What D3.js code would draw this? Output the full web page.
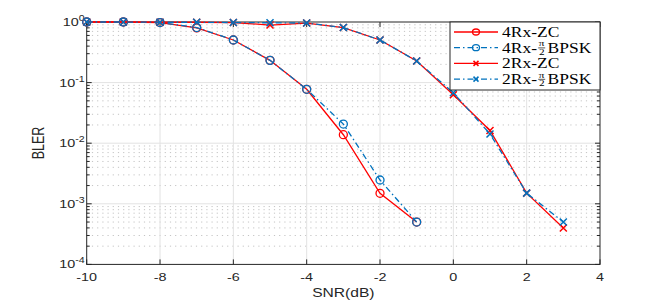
<!DOCTYPE html>
<html><head><meta charset="utf-8">
<script src="https://cdn.jsdelivr.net/npm/d3@7"></script>
<style>body{margin:0;background:#fff}svg{display:block}</style>
</head><body>
<svg id="c" width="664" height="300"></svg>
<script>
const snr4 = [-10,-9,-8,-7,-6,-5,-4,-3,-2,-1];
const zc4 = [1,1,0.98,0.80,0.505,0.233,0.0775,0.0138,0.00149,0.0005];
const bpsk4 = [1,1,0.98,0.81,0.505,0.233,0.0775,0.0207,0.00247,0.0005];
const snr2 = [-10,-9,-8,-7,-6,-5,-4,-3,-2,-1,0,1,2,3];
const zc2 = [1,1,0.99,0.99,0.98,0.89,0.96,0.81,0.505,0.227,0.063,0.0162,0.0015,0.0004];
const bpsk2 = [1,1,0.99,0.99,0.98,0.97,0.96,0.81,0.505,0.227,0.068,0.0142,0.0015,0.0005];
const xTicks = [-10,-8,-6,-4,-2,0,2,4];
const yTicks = [1e-4,1e-3,1e-2,1e-1,1];
const yExps = ["-4","-3","-2","-1","0"];
const legendPrefix = ["4Rx-ZC","4Rx-","2Rx-ZC","2Rx-"];
const legendFrac = [false,true,false,true];
const legendSuffix = ["","BPSK","","BPSK"];
const xLabel = "SNR(dB)", yLabel = "BLER";

const RED = "#ff0000", BLUE = "#0072BD", AX = "#262626";
const svg = d3.select("#c");
const L = 86.7, R = 600, T = 22, B = 264.4;
const x = d3.scaleLinear().domain([-10,4]).range([L,R]);
const y = d3.scaleLog().domain([1e-4,1]).range([B,T]);
const sx = 1.25;

// grid
const g = svg.append("g");
const minors = [];
for (let e=-4;e<0;e++) for (let m=2;m<=9;m++) minors.push(m*Math.pow(10,e));
g.selectAll(".mg").data(minors).join("line")
  .attr("x1",L).attr("x2",R).attr("y1",d=>y(d)).attr("y2",d=>y(d))
  .attr("stroke","#c4c4c4").attr("stroke-width",1).attr("stroke-dasharray","1.2,4");
g.selectAll(".gy").data(yTicks.slice(1,-1)).join("line")
  .attr("x1",L).attr("x2",R).attr("y1",d=>y(d)).attr("y2",d=>y(d))
  .attr("stroke","#e3e3e3").attr("stroke-width",1);
g.selectAll(".gx").data(xTicks.slice(1,-1)).join("line")
  .attr("y1",T).attr("y2",B).attr("x1",d=>x(d)).attr("x2",d=>x(d))
  .attr("stroke","#e3e3e3").attr("stroke-width",1);

// axes box and ticks
const ax = svg.append("g").attr("stroke",AX).attr("stroke-width",1).attr("fill","none");
ax.append("rect").attr("x",L).attr("y",T).attr("width",R-L).attr("height",B-T);
xTicks.forEach(t=>{
  ax.append("line").attr("x1",x(t)).attr("x2",x(t)).attr("y1",B).attr("y2",B-5);
  ax.append("line").attr("x1",x(t)).attr("x2",x(t)).attr("y1",T).attr("y2",T+5);
});
yTicks.forEach(t=>{
  ax.append("line").attr("x1",L).attr("x2",L+5).attr("y1",y(t)).attr("y2",y(t));
  ax.append("line").attr("x1",R).attr("x2",R-5).attr("y1",y(t)).attr("y2",y(t));
});
minors.forEach(t=>{
  ax.append("line").attr("x1",L).attr("x2",L+3).attr("y1",y(t)).attr("y2",y(t));
  ax.append("line").attr("x1",R).attr("x2",R-3).attr("y1",y(t)).attr("y2",y(t));
});

// tick labels
const FONT = "Liberation Sans, Arial, sans-serif";
xTicks.forEach(t=>{
  svg.append("text").attr("transform",`translate(${x(t)},${B+17}) scale(${sx},1)`)
    .attr("text-anchor","middle").attr("font-family",FONT).attr("font-size",11.5)
    .attr("fill",AX).text(t);
});
yTicks.forEach((t,i)=>{
  const tx = svg.append("text").attr("transform",`translate(${L-2},${y(t)+4}) scale(${sx},1)`)
    .attr("text-anchor","end").attr("font-family",FONT).attr("font-size",11.5).attr("fill",AX);
  tx.append("tspan").text("10");
  tx.append("tspan").attr("dy",-5).attr("font-size",8.5).text(yExps[i]);
});
svg.append("text").attr("transform",`translate(${(L+R)/2},297) scale(${sx},1)`)
  .attr("text-anchor","middle").attr("font-family",FONT).attr("font-size",12.5).attr("fill",AX).text(xLabel);
svg.append("text").attr("transform",`translate(44,143) scale(${sx},1) rotate(-90)`)
  .attr("text-anchor","middle").attr("font-family",FONT).attr("font-size",12.5).attr("fill",AX).text(yLabel);

// series
const series = [
  {xs:snr4, ys:zc4, color:RED, dash:null, mk:"o"},
  {xs:snr4, ys:bpsk4, color:BLUE, dash:"6,3,1.5,3", mk:"o"},
  {xs:snr2, ys:zc2, color:RED, dash:null, mk:"x"},
  {xs:snr2, ys:bpsk2, color:BLUE, dash:"6,3,1.5,3", mk:"x"}
];
const line = d3.line().x(d=>x(d[0])).y(d=>y(d[1]));
function marker(sel, mk, color, cx, cy, r){
  if (mk==="o") sel.append("circle").attr("cx",cx).attr("cy",cy).attr("r",r)
      .attr("fill","none").attr("stroke",color).attr("stroke-width",1.3);
  else sel.append("path").attr("d",`M${cx-r},${cy-r}L${cx+r},${cy+r}M${cx-r},${cy+r}L${cx+r},${cy-r}`)
      .attr("stroke",color).attr("stroke-width",1.5);
}
series.forEach(s=>{
  const pts = s.xs.map((v,i)=>[v,s.ys[i]]);
  svg.append("path").datum(pts).attr("d",line).attr("fill","none")
    .attr("stroke",s.color).attr("stroke-width",1.3).attr("stroke-dasharray",s.dash);
  const mg = svg.append("g");
  pts.forEach(p=>marker(mg, s.mk, s.color, x(p[0]), y(p[1]), s.mk==="o"?4:3.5));
});

// legend
const lg = svg.append("g");
lg.append("rect").attr("x",450).attr("y",T).attr("width",R-450).attr("height",68)
  .attr("fill","#fff").attr("stroke",AX).attr("stroke-width",1);
const SERIF = "Liberation Serif, DejaVu Serif, serif";
series.forEach((s,i)=>{
  const cy = T + 10 + i*15.7;
  lg.append("line").attr("x1",454).attr("x2",498).attr("y1",cy).attr("y2",cy)
    .attr("stroke",s.color).attr("stroke-width",1.3).attr("stroke-dasharray",s.dash);
  if (s.mk==="o") lg.append("ellipse").attr("cx",476).attr("cy",cy).attr("rx",3.5).attr("ry",3)
      .attr("fill","none").attr("stroke",s.color).attr("stroke-width",1.3);
  else marker(lg, "x", s.color, 476, cy, 2.5);
  const t = lg.append("g").attr("transform",`translate(502,${cy+5}) scale(${sx},1)`);
  const t1 = t.append("text").attr("font-family",SERIF).attr("font-size",14).attr("fill","#000").text(legendPrefix[i]);
  if (legendFrac[i]) {
    const w = t1.node().getComputedTextLength();
    t.append("text").attr("x",w+3.8).attr("y",-6.3).attr("text-anchor","middle")
      .attr("font-family",SERIF).attr("font-size",9).attr("fill","#000").text("π");
    t.append("line").attr("x1",w+1).attr("x2",w+6.6).attr("y1",-4.8).attr("y2",-4.8)
      .attr("stroke","#000").attr("stroke-width",0.6);
    t.append("text").attr("x",w+3.8).attr("y",2).attr("text-anchor","middle")
      .attr("font-family",SERIF).attr("font-size",9).attr("fill","#000").text("2");
    t.append("text").attr("x",w+8.5).attr("font-family",SERIF).attr("font-size",14).attr("fill","#000").text(legendSuffix[i]);
  }
});
</script>
</body></html>
